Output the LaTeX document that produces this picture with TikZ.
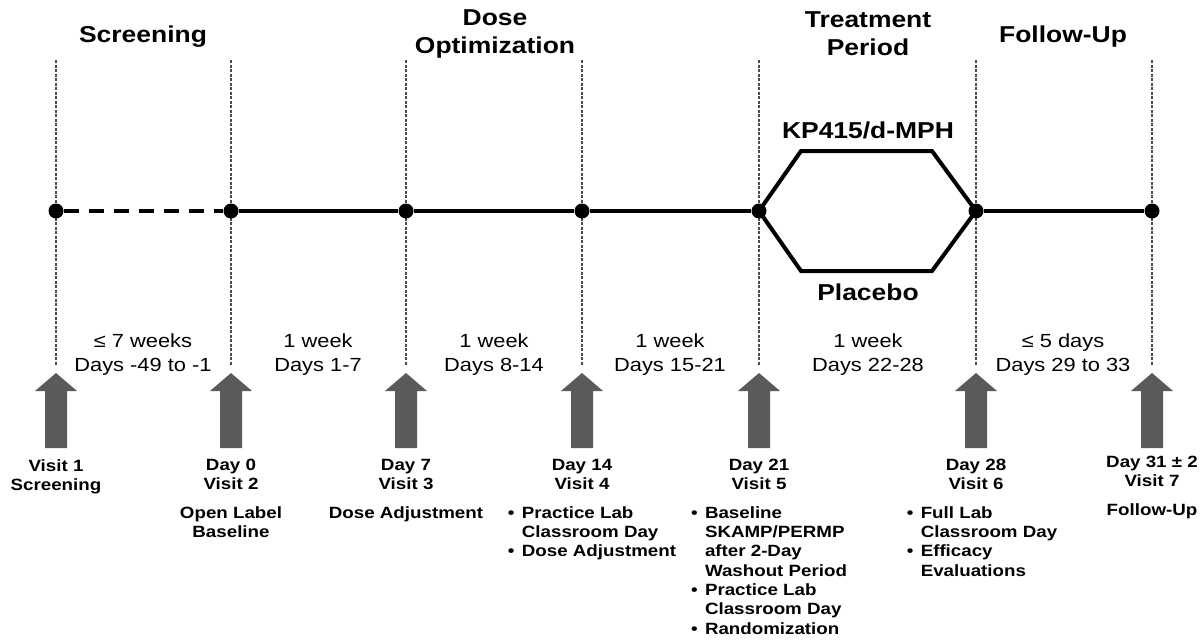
\documentclass[tikz,border=0pt]{standalone}
\usepackage{fontspec}
\setmainfont{Liberation Sans}[FakeStretch=1.15]
\usetikzlibrary{positioning}
\definecolor{arrowgray}{HTML}{5A5A5A}
\newcommand{\itm}{\makebox[14pt][l]{\textbullet}}
\newcommand{\ind}{\hspace*{14pt}}
\tikzset{
  phase/.style={font=\fontsize{23}{28}\selectfont\bfseries, align=center},
  span/.style={font=\fontsize{19}{24}\selectfont, align=center},
  visit/.style={font=\fontsize{16.3}{19.3}\selectfont\bfseries, align=center, inner sep=0pt},
  note/.style={font=\fontsize{16.3}{19.3}\selectfont\bfseries, align=left, inner sep=0pt},
  dot/.style={circle, fill=black, inner sep=0pt, minimum size=15pt},
  guide/.style={draw=black!70, line width=1.2pt, dash pattern=on 3pt off 1.5pt},
  track/.style={line width=4pt},
}

\begin{document}
\begin{tikzpicture}[x=1pt, y=-1pt]
  \useasboundingbox (0,0) rectangle (1201,640);

  % guides and visit arrows
  \foreach \x in {56,231,406,582,759,976,1152} {
    \draw[guide] (\x,60) -- (\x,365);
    \fill[arrowgray] (\x,373) -- ({\x+21},391) -- ({\x+11},391) -- ({\x+11},448)
      -- ({\x-11},448) -- ({\x-11},391) -- ({\x-21},391) -- cycle;
  }

  % timeline points
  \foreach \n/\x in {1/56,2/231,3/406,4/582,5/759,6/976,7/1152}
    \node[dot] (v\n) at (\x,211) {};

  \coordinate (armtl) at (801,151);
  \coordinate (armtr) at (932,151);
  \coordinate (armbl) at (801,271);
  \coordinate (armbr) at (932,271);

  \draw[track, dash pattern=on 15pt off 10pt] (v1) -- (v2);
  \draw[track] (v2) -- (v3) -- (v4) -- (v5);
  \draw[track, line join=miter] (v5.center) -- (armtl) -- (armtr) -- (v6.center);
  \draw[track, line join=miter] (v5.center) -- (armbl) -- (armbr) -- (v6.center);
  \draw[track] (v6) -- (v7);

  \node[phase] (kp) at (868,130) {KP415/d-MPH};
  \node[phase] (plc) at (868,292) {Placebo};

  % phase headers
  \node[phase] (screen) at (143,37) {Screening};
  \node[phase] (doseopt) at (495,34) {Dose\\Optimization};
  \node[phase] (treat) at (868,34) {Treatment\\Period};
  \node[phase] (follow) at (1063,37) {Follow-Up};

  % durations
  \node[span] (s1) at (143,355) {≤ 7 weeks\\Days -49 to -1};
  \node[span] (s2) at (318,355) {1 week\\Days 1-7};
  \node[span] (s3) at (494,355) {1 week\\Days 8-14};
  \node[span] (s4) at (670,355) {1 week\\Days 15-21};
  \node[span] (s5) at (868,355) {1 week\\Days 22-28};
  \node[span] (s6) at (1063,355) {≤ 5 days\\Days 29 to 33};

  % visits
  \node[visit, anchor=north] (d1) at (56,459) {Visit 1\\Screening};
  \node[visit, anchor=north] (d2) at (231,459) {Day 0\\Visit 2};
  \node[visit, anchor=north] (d3) at (406,459) {Day 7\\Visit 3};
  \node[visit, anchor=north] (d4) at (582,459) {Day 14\\Visit 4};
  \node[visit, anchor=north] (d5) at (759,459) {Day 21\\Visit 5};
  \node[visit, anchor=north] (d6) at (976,459) {Day 28\\Visit 6};
  \node[visit, anchor=north] (d7) at (1152,456) {Day 31 ± 2\\Visit 7};

  \node[visit, below=16pt of d2] (n2) {Open Label\\Baseline};
  \node[visit, below=16pt of d3] (n3) {Dose Adjustment};
  \node[note, below=16pt of d4, xshift=10pt] (n4) {\itm Practice Lab\\\ind Classroom Day\\\itm Dose Adjustment};
  \node[note, below=16pt of d5, xshift=10pt] (n5) {\itm Baseline\\\ind SKAMP/PERMP\\\ind after 2-Day\\\ind Washout Period\\\itm Practice Lab\\\ind Classroom Day\\\itm Randomization};
  \node[note, below=16pt of d6, xshift=6pt] (n6) {\itm Full Lab\\\ind Classroom Day\\\itm Efficacy\\\ind Evaluations};
  \node[visit, below=16pt of d7] (n7) {Follow-Up};
\end{tikzpicture}
\end{document}
